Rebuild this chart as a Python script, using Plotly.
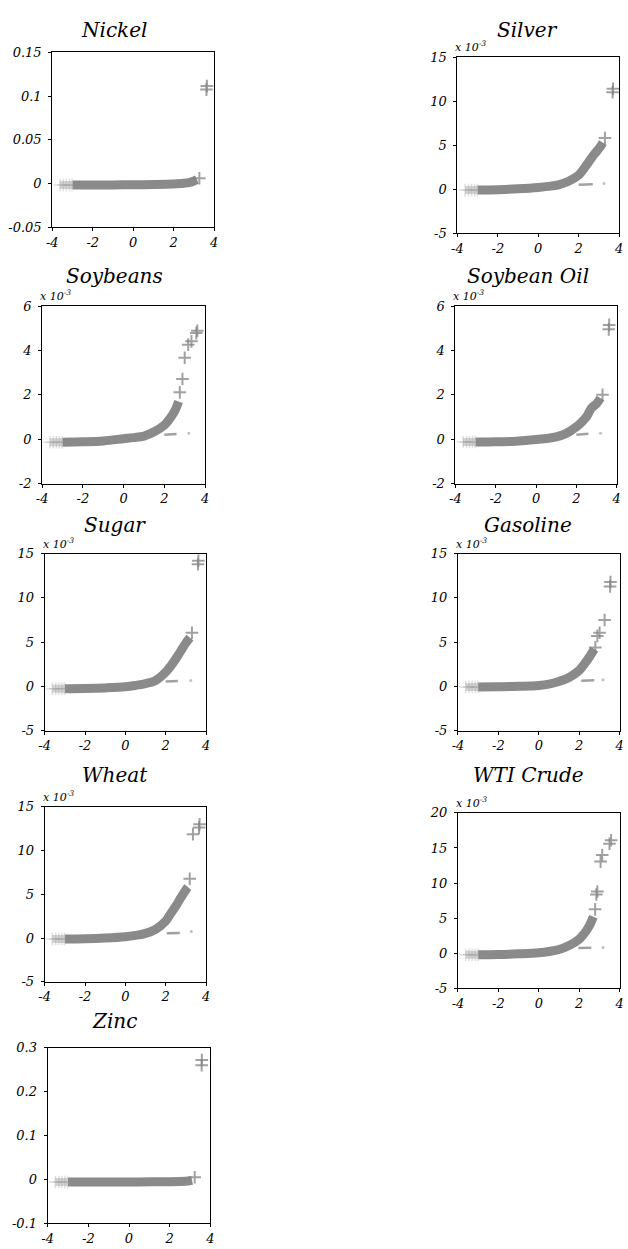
import plotly.graph_objects as go

# ---------------------------------------------------------------------------
# Quantile plots of squared returns against standard normal quantiles.
# Panels marked "x 10^-3" hold values in thousandths.
# ---------------------------------------------------------------------------

NAMES = ["Nickel", "Silver", "Soybeans", "Soybean Oil", "Sugar",
         "Gasoline", "Wheat", "WTI Crude", "Zinc"]

# Nickel (raw units)
NICKEL_LOW_Q = [-3.62, -3.45, -3.3, -3.15, -3.02]
NICKEL_LOW_V = [-0.0016, -0.0016, -0.0016, -0.0016, -0.0016]
NICKEL_BODY_Q = [-3.0, -2.0, -1.0, 0.0, 1.0, 2.0, 2.5, 2.8, 3.0, 3.15]
NICKEL_BODY_V = [-0.0016, -0.0016, -0.0015, -0.0013, -0.0010, -0.0004, 0.0004, 0.0015, 0.0030, 0.0045]
NICKEL_HIGH_Q = [3.27, 3.62, 3.64]
NICKEL_HIGH_V = [0.0062, 0.1075, 0.1115]
NICKEL_SIDE_Q = []
NICKEL_SIDE_V = []

# Silver (x 10^-3)
SILVER_LOW_Q = [-3.62, -3.45, -3.3, -3.15, -3.02]
SILVER_LOW_V = [-0.1, -0.1, -0.1, -0.1, -0.1]
SILVER_BODY_Q = [-3.0, -2.0, -1.0, 0.0, 0.5, 1.0, 1.5, 2.0, 2.25, 2.5, 2.75, 3.0, 3.2]
SILVER_BODY_V = [-0.1, -0.05, 0.05, 0.2, 0.32, 0.5, 0.9, 1.6, 2.3, 3.1, 3.9, 4.6, 5.3]
SILVER_HIGH_Q = [3.3, 3.68, 3.70]
SILVER_HIGH_V = [5.8, 11.0, 11.4]
SILVER_SIDE_Q = [2.0, 2.7, 3.25]
SILVER_SIDE_V = [0.5, 0.55, 0.65]

# Soybeans (x 10^-3)
SOYBEANS_LOW_Q = [-3.62, -3.45, -3.3, -3.15, -3.02]
SOYBEANS_LOW_V = [-0.14, -0.14, -0.14, -0.14, -0.14]
SOYBEANS_BODY_Q = [-3.0, -2.0, -1.0, 0.0, 0.5, 1.0, 1.5, 2.0, 2.25, 2.5, 2.7]
SOYBEANS_BODY_V = [-0.14, -0.12, -0.08, 0.02, 0.07, 0.14, 0.33, 0.63, 0.9, 1.25, 1.7]
SOYBEANS_HIGH_Q = [2.76, 2.89, 3.0, 3.17, 3.33, 3.57, 3.62]
SOYBEANS_HIGH_V = [2.11, 2.71, 3.67, 4.26, 4.41, 4.78, 4.89]
SOYBEANS_SIDE_Q = [2.0, 2.6, 3.2]
SOYBEANS_SIDE_V = [0.2, 0.23, 0.27]

# Soybean Oil (x 10^-3)
SOYOIL_LOW_Q = [-3.62, -3.45, -3.3, -3.15, -3.02]
SOYOIL_LOW_V = [-0.13, -0.13, -0.13, -0.13, -0.13]
SOYOIL_BODY_Q = [-3.0, -2.0, -1.0, 0.0, 0.5, 1.0, 1.5, 2.0, 2.25, 2.5, 2.75, 3.0, 3.2]
SOYOIL_BODY_V = [-0.13, -0.12, -0.09, -0.02, 0.03, 0.1, 0.26, 0.55, 0.75, 1.0, 1.4, 1.6, 1.85]
SOYOIL_HIGH_Q = [3.3, 3.61, 3.63]
SOYOIL_HIGH_V = [2.0, 4.95, 5.15]
SOYOIL_SIDE_Q = [2.0, 2.6, 3.2]
SOYOIL_SIDE_V = [0.2, 0.24, 0.27]

# Sugar (x 10^-3)
SUGAR_LOW_Q = [-3.62, -3.45, -3.3, -3.15, -3.02]
SUGAR_LOW_V = [-0.27, -0.27, -0.27, -0.27, -0.27]
SUGAR_BODY_Q = [-3.0, -2.0, -1.0, 0.0, 0.5, 1.0, 1.5, 2.0, 2.25, 2.5, 2.75, 3.0, 3.2]
SUGAR_BODY_V = [-0.27, -0.25, -0.18, -0.05, 0.1, 0.3, 0.66, 1.6, 2.3, 3.1, 4.0, 4.9, 5.5]
SUGAR_HIGH_Q = [3.3, 3.6, 3.62]
SUGAR_HIGH_V = [6.05, 13.8, 14.2]
SUGAR_SIDE_Q = [2.0, 2.6, 3.24]
SUGAR_SIDE_V = [0.55, 0.6, 0.66]

# Gasoline (x 10^-3)
GASOLINE_LOW_Q = [-3.62, -3.45, -3.3, -3.15, -3.02]
GASOLINE_LOW_V = [-0.08, -0.08, -0.08, -0.08, -0.08]
GASOLINE_BODY_Q = [-3.0, -2.0, -1.0, 0.0, 0.5, 1.0, 1.5, 2.0, 2.25, 2.5, 2.75]
GASOLINE_BODY_V = [-0.08, -0.05, 0.0, 0.1, 0.25, 0.55, 1.0, 1.8, 2.5, 3.3, 4.2]
GASOLINE_HIGH_Q = [2.8, 2.9, 3.01, 3.26, 3.53, 3.55]
GASOLINE_HIGH_V = [4.4, 5.7, 6.06, 7.5, 11.3, 11.8]
GASOLINE_SIDE_Q = [2.1, 2.75, 3.18]
GASOLINE_SIDE_V = [0.62, 0.68, 0.74]

# Wheat (x 10^-3)
WHEAT_LOW_Q = [-3.62, -3.45, -3.3, -3.15, -3.02]
WHEAT_LOW_V = [-0.11, -0.11, -0.11, -0.11, -0.11]
WHEAT_BODY_Q = [-3.0, -2.0, -1.0, 0.0, 0.5, 1.0, 1.5, 2.0, 2.25, 2.5, 2.75, 3.0, 3.1]
WHEAT_BODY_V = [-0.11, -0.08, 0.0, 0.15, 0.3, 0.53, 1.0, 1.95, 2.8, 3.65, 4.6, 5.5, 5.8]
WHEAT_HIGH_Q = [3.19, 3.35, 3.65, 3.68]
WHEAT_HIGH_V = [6.77, 11.84, 12.6, 12.97]
WHEAT_SIDE_Q = [2.05, 2.7, 3.27]
WHEAT_SIDE_V = [0.54, 0.58, 0.75]

# WTI Crude (x 10^-3)
WTI_LOW_Q = [-3.62, -3.45, -3.3, -3.15, -3.02]
WTI_LOW_V = [-0.22, -0.22, -0.22, -0.22, -0.22]
WTI_BODY_Q = [-3.0, -2.0, -1.0, 0.0, 0.5, 1.0, 1.5, 2.0, 2.25, 2.5, 2.7]
WTI_BODY_V = [-0.22, -0.18, -0.08, 0.07, 0.25, 0.53, 1.1, 2.0, 2.8, 3.9, 5.2]
WTI_HIGH_Q = [2.79, 2.85, 2.9, 3.06, 3.14, 3.5, 3.58]
WTI_HIGH_V = [6.26, 8.37, 8.8, 13.06, 14.0, 15.6, 16.1]
WTI_SIDE_Q = [1.96, 2.6, 3.18]
WTI_SIDE_V = [0.75, 0.8, 0.82]

# Zinc (raw units)
ZINC_LOW_Q = [-3.62, -3.45, -3.3, -3.15, -3.02]
ZINC_LOW_V = [-0.0062, -0.0062, -0.0062, -0.0062, -0.0062]
ZINC_BODY_Q = [-3.0, -2.0, -1.0, 0.0, 1.0, 2.0, 2.5, 2.9, 3.1]
ZINC_BODY_V = [-0.0062, -0.0062, -0.0061, -0.0060, -0.0058, -0.0055, -0.0050, -0.0040, -0.0025]
ZINC_HIGH_Q = [3.23, 3.57, 3.58]
ZINC_HIGH_V = [0.0048, 0.26, 0.272]
ZINC_SIDE_Q = []
ZINC_SIDE_V = []

# Axis scales
X_TICKS = [-4, -2, 0, 2, 4]
X_TICKTEXT = ["-4", "-2", "0", "2", "4"]
Y_TICKS = {
    "Nickel": [-0.05, 0, 0.05, 0.1, 0.15],
    "Silver": [-5, 0, 5, 10, 15],
    "Soybeans": [-2, 0, 2, 4, 6],
    "Soybean Oil": [-2, 0, 2, 4, 6],
    "Sugar": [-5, 0, 5, 10, 15],
    "Gasoline": [-5, 0, 5, 10, 15],
    "Wheat": [-5, 0, 5, 10, 15],
    "WTI Crude": [-5, 0, 5, 10, 15, 20],
    "Zinc": [-0.1, 0, 0.1, 0.2, 0.3],
}
Y_TICKTEXT = {
    "Nickel": ["-0.05", "0", "0.05", "0.1", "0.15"],
    "Silver": ["-5", "0", "5", "10", "15"],
    "Soybeans": ["-2", "0", "2", "4", "6"],
    "Soybean Oil": ["-2", "0", "2", "4", "6"],
    "Sugar": ["-5", "0", "5", "10", "15"],
    "Gasoline": ["-5", "0", "5", "10", "15"],
    "Wheat": ["-5", "0", "5", "10", "15"],
    "WTI Crude": ["-5", "0", "5", "10", "15", "20"],
    "Zinc": ["-0.1", "0", "0.1", "0.2", "0.3"],
}
SCALED = {"Silver", "Soybeans", "Soybean Oil", "Sugar", "Gasoline", "Wheat", "WTI Crude"}

SERIES = {
    "Nickel": (NICKEL_LOW_Q, NICKEL_LOW_V, NICKEL_BODY_Q, NICKEL_BODY_V,
               NICKEL_HIGH_Q, NICKEL_HIGH_V, NICKEL_SIDE_Q, NICKEL_SIDE_V),
    "Silver": (SILVER_LOW_Q, SILVER_LOW_V, SILVER_BODY_Q, SILVER_BODY_V,
               SILVER_HIGH_Q, SILVER_HIGH_V, SILVER_SIDE_Q, SILVER_SIDE_V),
    "Soybeans": (SOYBEANS_LOW_Q, SOYBEANS_LOW_V, SOYBEANS_BODY_Q, SOYBEANS_BODY_V,
                 SOYBEANS_HIGH_Q, SOYBEANS_HIGH_V, SOYBEANS_SIDE_Q, SOYBEANS_SIDE_V),
    "Soybean Oil": (SOYOIL_LOW_Q, SOYOIL_LOW_V, SOYOIL_BODY_Q, SOYOIL_BODY_V,
                    SOYOIL_HIGH_Q, SOYOIL_HIGH_V, SOYOIL_SIDE_Q, SOYOIL_SIDE_V),
    "Sugar": (SUGAR_LOW_Q, SUGAR_LOW_V, SUGAR_BODY_Q, SUGAR_BODY_V,
              SUGAR_HIGH_Q, SUGAR_HIGH_V, SUGAR_SIDE_Q, SUGAR_SIDE_V),
    "Gasoline": (GASOLINE_LOW_Q, GASOLINE_LOW_V, GASOLINE_BODY_Q, GASOLINE_BODY_V,
                 GASOLINE_HIGH_Q, GASOLINE_HIGH_V, GASOLINE_SIDE_Q, GASOLINE_SIDE_V),
    "Wheat": (WHEAT_LOW_Q, WHEAT_LOW_V, WHEAT_BODY_Q, WHEAT_BODY_V,
              WHEAT_HIGH_Q, WHEAT_HIGH_V, WHEAT_SIDE_Q, WHEAT_SIDE_V),
    "WTI Crude": (WTI_LOW_Q, WTI_LOW_V, WTI_BODY_Q, WTI_BODY_V,
                  WTI_HIGH_Q, WTI_HIGH_V, WTI_SIDE_Q, WTI_SIDE_V),
    "Zinc": (ZINC_LOW_Q, ZINC_LOW_V, ZINC_BODY_Q, ZINC_BODY_V,
             ZINC_HIGH_Q, ZINC_HIGH_V, ZINC_SIDE_Q, ZINC_SIDE_V),
}

# ---------------------------------------------------------------------------
# Page geometry (pixels): axes boxes (left, top, right, bottom), title centres
# ---------------------------------------------------------------------------
W, H = 628, 1249
BOXES = {
    "Nickel": (47, 46, 211.5, 223),
    "Silver": (458.7, 50.7, 623, 229),
    "Soybeans": (36.7, 302.7, 202.3, 482.3),
    "Soybean Oil": (456.7, 302.7, 620.5, 482.3),
    "Sugar": (39.3, 553.3, 203.3, 732.3),
    "Gasoline": (459.3, 553.3, 623.5, 732.3),
    "Wheat": (39.3, 809.3, 203.3, 986.7),
    "WTI Crude": (459.3, 815.7, 623.5, 993.3),
    "Zinc": (42.3, 1053.3, 207.7, 1231),
}
TITLE_POS = {
    "Nickel": (110, 23.5),
    "Silver": (530, 23.5),
    "Soybeans": (110.5, 272.5),
    "Soybean Oil": (530, 272.5),
    "Sugar": (111, 524.5),
    "Gasoline": (530, 524.5),
    "Wheat": (111, 777.5),
    "WTI Crude": (531, 777.5),
    "Zinc": (110, 1026.5),
}

FONT = "DejaVu Serif"
GRAY = "rgb(138,138,138)"

fig = go.Figure()
layout = dict(
    width=W, height=H,
    margin=dict(l=0, r=0, t=0, b=0),
    paper_bgcolor="white", plot_bgcolor="white",
    showlegend=False,
    font=dict(family=FONT, size=12, color="black", style="italic"),
)
annotations = []

for i, name in enumerate(NAMES, start=1):
    lq, lv, bq, bv, hq, hv, sq, sv = SERIES[name]
    xa, ya = f"x{i}", f"y{i}"

    # faint left tail
    fig.add_trace(go.Scatter(
        x=lq, y=lv, mode="lines+markers", xaxis=xa, yaxis=ya,
        line=dict(color="rgba(160,160,160,0.45)", width=8),
        marker=dict(symbol="cross-thin", size=9,
                    line=dict(color="rgba(160,160,160,0.35)", width=1.5)),
        hoverinfo="skip"))
    # dense body
    fig.add_trace(go.Scatter(
        x=bq, y=bv, mode="lines", xaxis=xa, yaxis=ya,
        line=dict(color=GRAY, width=9, shape="spline"),
        hoverinfo="skip"))
    # short secondary run near the upper tail
    if sq:
        fig.add_trace(go.Scatter(
            x=sq[:2], y=sv[:2], mode="lines", xaxis=xa, yaxis=ya,
            line=dict(color="rgba(130,130,130,0.75)", width=2.5),
            hoverinfo="skip"))
        fig.add_trace(go.Scatter(
            x=sq[2:], y=sv[2:], mode="markers", xaxis=xa, yaxis=ya,
            marker=dict(symbol="circle", size=3, color="rgba(150,150,150,0.6)"),
            hoverinfo="skip"))
    # sparse extreme points
    fig.add_trace(go.Scatter(
        x=hq, y=hv, mode="markers", xaxis=xa, yaxis=ya,
        marker=dict(symbol="cross-thin", size=9,
                    line=dict(color="rgba(130,130,130,0.75)", width=2)),
        hoverinfo="skip"))

    left, top, right, bottom = BOXES[name]
    yt = Y_TICKS[name]
    axis_common = dict(
        showline=True, mirror=True, linecolor="black", linewidth=1,
        showgrid=False, zeroline=False, ticks="outside", ticklen=3,
        tickcolor="black", tickwidth=1,
        tickfont=dict(family=FONT, size=13, color="black", style="italic"),
    )
    layout[f"xaxis{i}"] = dict(
        axis_common, domain=[left / W, right / W], anchor=ya,
        range=[-4, 4], tickvals=X_TICKS, ticktext=X_TICKTEXT)
    layout[f"yaxis{i}"] = dict(
        axis_common, domain=[1 - bottom / H, 1 - top / H], anchor=xa,
        range=[yt[0], yt[-1]], tickvals=yt, ticktext=Y_TICKTEXT[name],
        ticklabelstandoff=4)

    tx, ty = TITLE_POS[name]
    annotations.append(dict(
        text=name, xref="paper", yref="paper", x=tx / W, y=1 - ty / H,
        xanchor="center", yanchor="middle", showarrow=False,
        font=dict(family=FONT, size=20, color="black", style="italic")))
    if name in SCALED:
        annotations.append(dict(
            text="x 10<sup>-3</sup>", xref="paper", yref="paper",
            x=(left - 4) / W, y=1 - (top - 1) / H,
            xanchor="left", yanchor="bottom", showarrow=False,
            font=dict(family=FONT, size=11, color="black", style="italic")))

layout["annotations"] = annotations
fig.update_layout(**layout)
fig.write_html("out.html")
